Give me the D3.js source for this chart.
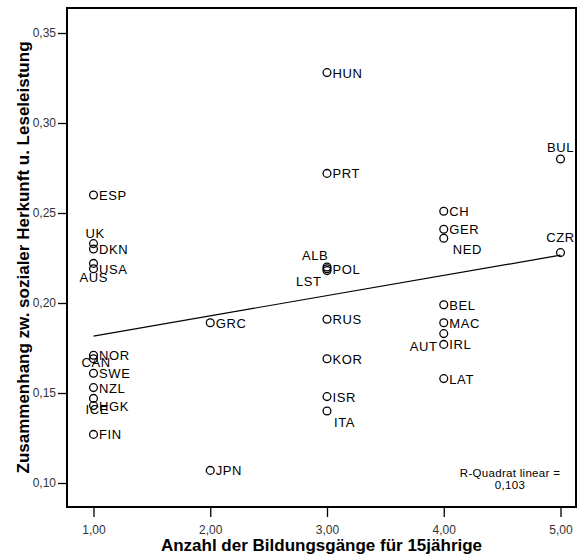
<!DOCTYPE html>
<html><head><meta charset="utf-8">
<script src="https://cdn.jsdelivr.net/npm/d3@7"></script>
<style>
html,body{margin:0;padding:0;background:#fff;}
svg{display:block;font-family:"Liberation Sans",Arial,sans-serif;}
</style></head>
<body><svg id="c" width="578" height="555"></svg>
<script>
// ---- data ----
const countries = ["ESP","UK","DKN","AUS","USA","NOR","CAN","SWE","NZL","ICE","HGK","FIN",
  "GRC","JPN",
  "HUN","PRT","ALB","POL","LST","RUS","KOR","ISR","ITA",
  "CH","GER","NED","BEL","MAC","AUT","IRL","LAT",
  "BUL","CZR"];
const tracks = [1,1,1,1,1,1,1,1,1,1,1,1,
  2,2,
  3,3,3,3,3,3,3,3,3,
  4,4,4,4,4,4,4,4,
  5,5];
const association = [0.260,0.233,0.230,0.222,0.219,0.171,0.169,0.161,0.153,0.147,0.143,0.127,
  0.189,0.107,
  0.328,0.272,0.220,0.219,0.218,0.191,0.169,0.148,0.140,
  0.251,0.241,0.236,0.199,0.189,0.183,0.177,0.158,
  0.280,0.228];
const xTicks = [1,2,3,4,5];
const yTicks = [0.10,0.15,0.20,0.25,0.30,0.35];
const xTitle = "Anzahl der Bildungsgänge für 15jährige";
const yTitle = "Zusammenhang zw. sozialer Herkunft u. Leseleistung";
const rsqLines = ["R-Quadrat linear =","0,103"];

// label placement (layout only): [dx, dy, anchor]
const labelPlace = {
  UK:[-8,-10,"start"], AUS:[-14,14,"start"], CAN:[-12,4,"start"], ICE:[-8,11,"start"],
  ALB:[-25,-12,"start"], LST:[-31,11,"start"], ITA:[7,11,"start"], NED:[9,11,"start"],
  BUL:[0,-12,"middle"], CZR:[0,-15,"middle"], AUT:[-34,13,"start"]
};

const svg = d3.select("#c");
const frame = {l:67, r:576, t:8, b:507};
const x = d3.scaleLinear().domain([1,5]).range([93.5,560.5]);
const y = d3.scaleLinear().domain([0.10,0.35]).range([483,33]);
const fmt = d => d.toFixed(2).replace(".",",");

// axes
const ax = svg.append("g").attr("transform",`translate(0,${frame.b})`)
  .call(d3.axisBottom(x).tickValues(xTicks).tickSize(10).tickPadding(8).tickFormat(fmt));
const ay = svg.append("g").attr("transform",`translate(${frame.l},0)`)
  .call(d3.axisLeft(y).tickValues(yTicks).tickSize(9).tickPadding(2).tickFormat(fmt));
[ax,ay].forEach(g=>{
  g.select(".domain").remove();
  g.selectAll(".tick line").attr("stroke","#000").attr("stroke-width",1.3);
  g.selectAll(".tick text").attr("fill","#333").style("font-size","12px")
    .style("font-family","'Liberation Sans',Arial,sans-serif");
});

// frame
svg.append("rect").attr("x",frame.l).attr("y",frame.t)
  .attr("width",frame.r-frame.l).attr("height",frame.b-frame.t)
  .attr("fill","none").attr("stroke","#000").attr("stroke-width",2);

// regression line computed from data
const n = tracks.length;
const mx = d3.mean(tracks), my = d3.mean(association);
let sxy=0, sxx=0;
for(let i=0;i<n;i++){ sxy+=(tracks[i]-mx)*(association[i]-my); sxx+=(tracks[i]-mx)**2; }
const b = sxy/sxx, a = my - b*mx;
const xr = d3.extent(tracks);
svg.append("line")
  .attr("x1",x(xr[0])).attr("y1",y(a+b*xr[0]))
  .attr("x2",x(xr[1])).attr("y2",y(a+b*xr[1]))
  .attr("stroke","#000").attr("stroke-width",1.2);

// points
const pts = countries.map((c,i)=>({c, xv:tracks[i], yv:association[i]}));
svg.append("g").selectAll("circle").data(pts).join("circle")
  .attr("cx",d=>x(d.xv)).attr("cy",d=>y(d.yv)).attr("r",3.9)
  .attr("fill","none").attr("stroke","#000").attr("stroke-width",1.3);

svg.append("g").selectAll("text").data(pts).join("text")
  .attr("x",d=>x(d.xv)+(labelPlace[d.c]?labelPlace[d.c][0]:5.5))
  .attr("y",d=>y(d.yv)+(labelPlace[d.c]?labelPlace[d.c][1]:0.5))
  .attr("dy","0.35em")
  .attr("text-anchor",d=>labelPlace[d.c]?labelPlace[d.c][2]:"start")
  .style("font-size","13px").style("letter-spacing","0.6px")
  .attr("fill","#000")
  .text(d=>d.c);

// R-squared note
svg.append("g").selectAll("text").data(rsqLines).join("text")
  .attr("x",510).attr("y",(d,i)=>477+i*11.5)
  .attr("text-anchor","middle").style("font-size","11.5px").style("letter-spacing","0.3px")
  .text(d=>d);

// titles
svg.append("text").attr("x",(frame.l+frame.r)/2).attr("y",551)
  .attr("text-anchor","middle").style("font-size","17px").style("font-weight","bold")
  .text(xTitle);
svg.append("text").attr("transform",`translate(29,${(frame.t+frame.b)/2}) rotate(-90)`)
  .attr("text-anchor","middle").style("font-size","17px").style("font-weight","bold")
  .text(yTitle);
</script></body></html>
